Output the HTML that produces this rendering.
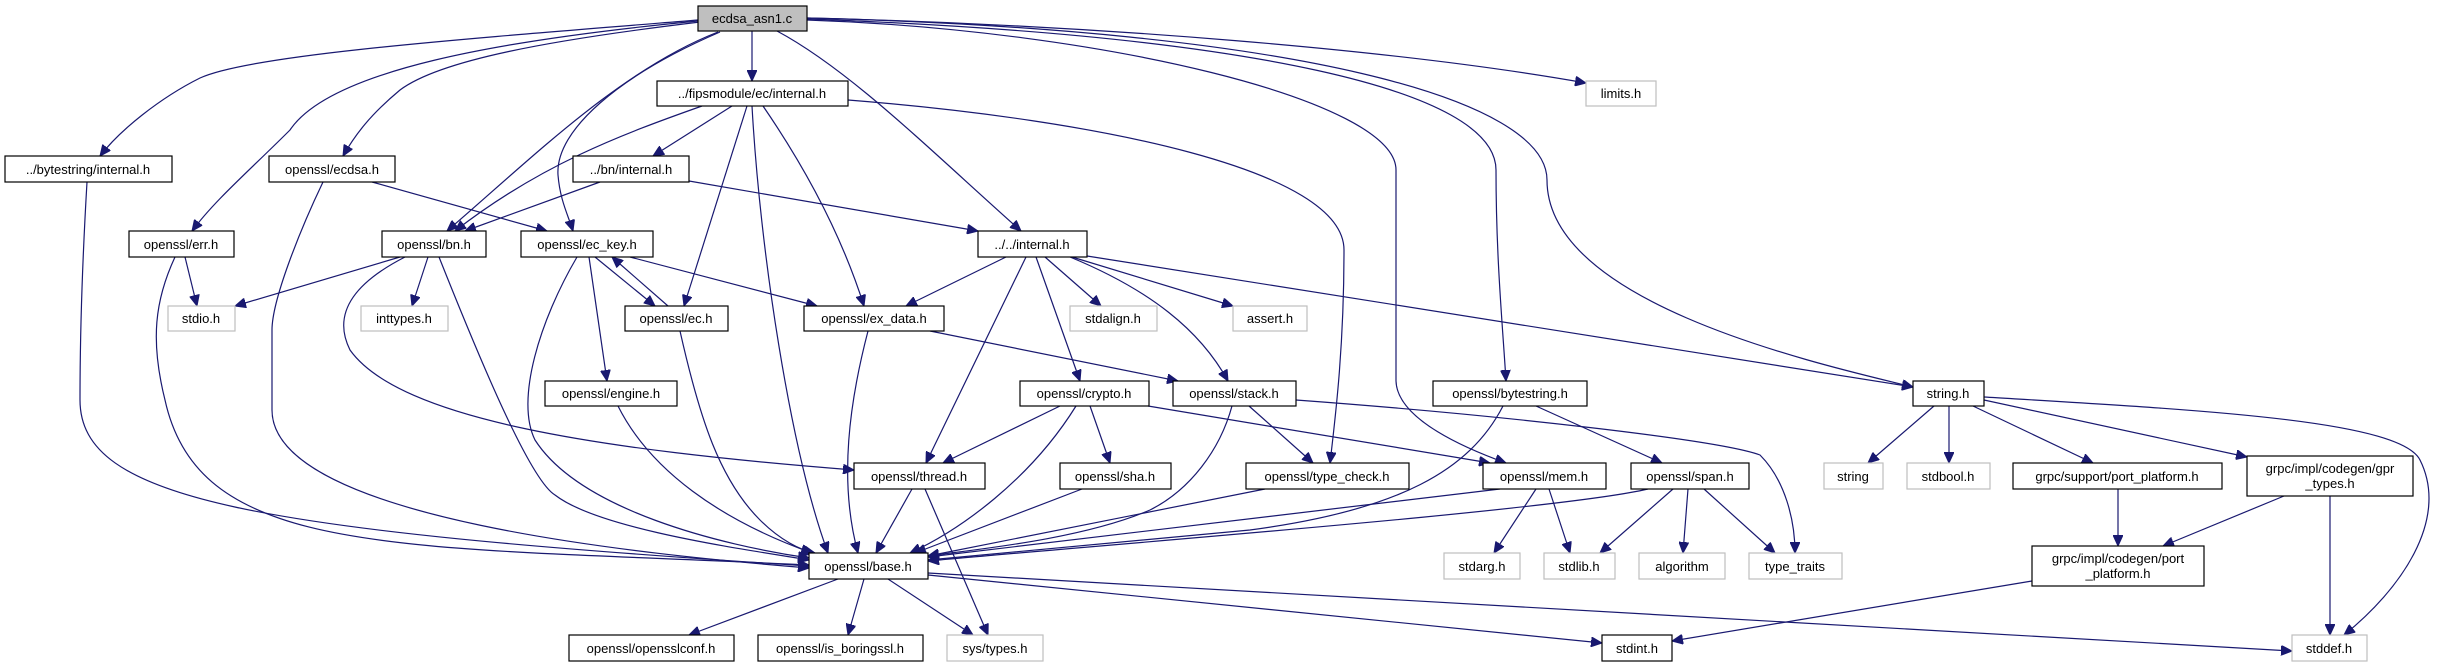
<!DOCTYPE html>
<html><head><meta charset="utf-8"><style>
html,body{margin:0;padding:0;background:#fff;}
svg{display:block;}
text{font-family:"Liberation Sans",sans-serif;font-size:13px;fill:#000;}
.e{fill:none;stroke:#191970;stroke-width:1.2;marker-end:url(#a);}
.n{fill:#fff;stroke:#000;stroke-width:1.2;}
.g{fill:#fff;stroke:#bfbfbf;stroke-width:1.2;}
</style></head><body>
<svg width="2446" height="664" viewBox="0 0 2446 664" xmlns="http://www.w3.org/2000/svg">
<defs><marker id="a" markerUnits="userSpaceOnUse" markerWidth="12" markerHeight="10" refX="11" refY="5" orient="auto"><path d="M0,0 L11,5 L0,10 z" fill="#191970" stroke="#191970"/></marker></defs>
<g>
<path class="e" d="M698,20 C450,40 250,55 200,78 C160,98 120,130 100,156"/>
<path class="e" d="M698,21 C500,40 330,70 290,130 C250,170 215,200 192,231"/>
<path class="e" d="M700,22 C550,40 440,60 400,90 C370,115 355,135 343,156"/>
<path class="e" d="M718,32 C620,70 530,160 447,231"/>
<path class="e" d="M720,32 C620,75 555,130 558,175 C560,200 568,215 573,231"/>
<path class="e" d="M752,31 L752,81"/>
<path class="e" d="M777,31 C850,70 930,150 1021,231"/>
<path class="e" d="M807,20 C1100,30 1396,100 1396,170 L1396,380 C1396,420 1470,450 1506,463"/>
<path class="e" d="M807,19 C1250,35 1496,90 1496,170 C1496,260 1503,330 1506,381"/>
<path class="e" d="M807,18 C1300,30 1547,100 1547,180 C1547,300 1800,360 1913,387"/>
<path class="e" d="M807,18 C1100,25 1400,50 1586,83"/>
<path class="e" d="M702,106 C620,135 540,165 455,231"/>
<path class="e" d="M732,106 L653,156"/>
<path class="e" d="M747,106 L684,306"/>
<path class="e" d="M752,106 C760,250 790,450 828,553"/>
<path class="e" d="M763,106 C800,160 840,230 864,306"/>
<path class="e" d="M848,100 C1100,120 1344,170 1344,250 C1344,350 1335,420 1330,463"/>
<path class="e" d="M689,181 L978,231"/>
<path class="e" d="M600,182 L465,231"/>
<path class="e" d="M372,182 L547,231"/>
<path class="e" d="M323,182 C300,230 272,300 272,330 L272,410 C272,520 650,555 809,568"/>
<path class="e" d="M87,182 C83,250 80,330 80,400 C80,500 250,530 809,566"/>
<path class="e" d="M185,257 L197,306"/>
<path class="e" d="M175,257 C155,300 150,340 165,400 C200,560 400,545 809,565"/>
<path class="e" d="M400,257 L235,306"/>
<path class="e" d="M428,257 L412,306"/>
<path class="e" d="M405,257 C360,280 330,310 350,350 C400,420 600,450 854,470"/>
<path class="e" d="M439,257 C480,360 530,480 555,495 C600,530 750,550 809,560"/>
<path class="e" d="M595,257 L655,306"/>
<path class="e" d="M668,306 L612,257"/>
<path class="e" d="M630,257 L817,306"/>
<path class="e" d="M589,257 L607,381"/>
<path class="e" d="M577,257 C540,320 515,400 535,440 C580,510 720,545 809,558"/>
<path class="e" d="M680,331 C700,420 720,480 760,520 C780,540 800,550 815,553"/>
<path class="e" d="M618,406 C650,470 720,520 812,553"/>
<path class="e" d="M868,331 C850,400 838,480 858,553"/>
<path class="e" d="M930,331 L1178,381"/>
<path class="e" d="M1006,257 L906,306"/>
<path class="e" d="M1045,257 L1101,306"/>
<path class="e" d="M1072,257 L1233,306"/>
<path class="e" d="M1070,257 C1150,290 1200,330 1228,381"/>
<path class="e" d="M1036,257 L1080,381"/>
<path class="e" d="M1026,257 L926,463"/>
<path class="e" d="M1087,256 L1913,387"/>
<path class="e" d="M1060,406 L943,463"/>
<path class="e" d="M1076,406 C1030,480 960,530 910,553"/>
<path class="e" d="M1090,406 L1110,463"/>
<path class="e" d="M1148,406 L1490,463"/>
<path class="e" d="M1249,406 L1313,463"/>
<path class="e" d="M1232,406 C1220,450 1190,490 1150,510 C1080,540 970,550 928,556"/>
<path class="e" d="M1296,400 C1500,415 1720,440 1760,455 C1785,480 1795,520 1795,553"/>
<path class="e" d="M912,489 L876,553"/>
<path class="e" d="M925,489 L988,635"/>
<path class="e" d="M1082,489 L915,553"/>
<path class="e" d="M1265,489 L928,556"/>
<path class="e" d="M1500,489 L928,557"/>
<path class="e" d="M1536,489 L1494,553"/>
<path class="e" d="M1549,489 L1570,553"/>
<path class="e" d="M1503,406 C1470,470 1400,510 1250,530 L928,560"/>
<path class="e" d="M1536,406 L1662,463"/>
<path class="e" d="M1648,489 C1560,510 1100,545 928,561"/>
<path class="e" d="M1673,489 L1600,553"/>
<path class="e" d="M1688,489 L1683,553"/>
<path class="e" d="M1704,489 L1775,553"/>
<path class="e" d="M838,579 L689,635"/>
<path class="e" d="M864,579 L848,635"/>
<path class="e" d="M888,579 L973,635"/>
<path class="e" d="M928,575 L1602,643"/>
<path class="e" d="M928,573 L2292,651"/>
<path class="e" d="M1934,406 L1868,463"/>
<path class="e" d="M1949,406 L1949,463"/>
<path class="e" d="M1973,406 L2093,463"/>
<path class="e" d="M1984,400 L2247,457"/>
<path class="e" d="M1984,397 C2200,410 2400,420 2420,460 C2450,520 2400,590 2344,635"/>
<path class="e" d="M2118,489 L2118,546"/>
<path class="e" d="M2284,496 L2163,546"/>
<path class="e" d="M2330,496 L2330,635"/>
<path class="e" d="M2032,581 L1672,641"/>
</g>
<g>
<rect x="698" y="6" width="109" height="25" fill="#bfbfbf" stroke="#000" stroke-width="1.2"/><text x="752" y="23" text-anchor="middle">ecdsa_asn1.c</text>
<rect class="n" x="657" y="81" width="191" height="25"/><text x="752" y="98" text-anchor="middle">../fipsmodule/ec/internal.h</text>
<rect class="g" x="1586" y="81" width="70" height="25"/><text x="1621" y="98" text-anchor="middle">limits.h</text>
<rect class="n" x="5" y="156" width="167" height="26"/><text x="88" y="174" text-anchor="middle">../bytestring/internal.h</text>
<rect class="n" x="269" y="156" width="126" height="26"/><text x="332" y="174" text-anchor="middle">openssl/ecdsa.h</text>
<rect class="n" x="573" y="156" width="116" height="26"/><text x="631" y="174" text-anchor="middle">../bn/internal.h</text>
<rect class="n" x="129" y="231" width="105" height="26"/><text x="181" y="249" text-anchor="middle">openssl/err.h</text>
<rect class="n" x="382" y="231" width="104" height="26"/><text x="434" y="249" text-anchor="middle">openssl/bn.h</text>
<rect class="n" x="521" y="231" width="132" height="26"/><text x="587" y="249" text-anchor="middle">openssl/ec_key.h</text>
<rect class="n" x="978" y="231" width="109" height="26"/><text x="1032" y="249" text-anchor="middle">../../internal.h</text>
<rect class="g" x="168" y="306" width="67" height="25"/><text x="201" y="323" text-anchor="middle">stdio.h</text>
<rect class="g" x="361" y="306" width="87" height="25"/><text x="404" y="323" text-anchor="middle">inttypes.h</text>
<rect class="n" x="625" y="306" width="103" height="25"/><text x="676" y="323" text-anchor="middle">openssl/ec.h</text>
<rect class="n" x="804" y="306" width="140" height="25"/><text x="874" y="323" text-anchor="middle">openssl/ex_data.h</text>
<rect class="g" x="1070" y="306" width="87" height="25"/><text x="1113" y="323" text-anchor="middle">stdalign.h</text>
<rect class="g" x="1233" y="306" width="74" height="25"/><text x="1270" y="323" text-anchor="middle">assert.h</text>
<rect class="n" x="545" y="381" width="132" height="25"/><text x="611" y="398" text-anchor="middle">openssl/engine.h</text>
<rect class="n" x="1020" y="381" width="129" height="25"/><text x="1084" y="398" text-anchor="middle">openssl/crypto.h</text>
<rect class="n" x="1173" y="381" width="123" height="25"/><text x="1234" y="398" text-anchor="middle">openssl/stack.h</text>
<rect class="n" x="1433" y="381" width="154" height="25"/><text x="1510" y="398" text-anchor="middle">openssl/bytestring.h</text>
<rect class="n" x="1913" y="381" width="71" height="25"/><text x="1948" y="398" text-anchor="middle">string.h</text>
<rect class="n" x="854" y="463" width="131" height="26"/><text x="919" y="481" text-anchor="middle">openssl/thread.h</text>
<rect class="n" x="1060" y="463" width="111" height="26"/><text x="1115" y="481" text-anchor="middle">openssl/sha.h</text>
<rect class="n" x="1246" y="463" width="163" height="26"/><text x="1327" y="481" text-anchor="middle">openssl/type_check.h</text>
<rect class="n" x="1483" y="463" width="123" height="26"/><text x="1544" y="481" text-anchor="middle">openssl/mem.h</text>
<rect class="n" x="1631" y="463" width="118" height="26"/><text x="1690" y="481" text-anchor="middle">openssl/span.h</text>
<rect class="g" x="1824" y="463" width="59" height="26"/><text x="1853" y="481" text-anchor="middle">string</text>
<rect class="g" x="1907" y="463" width="83" height="26"/><text x="1948" y="481" text-anchor="middle">stdbool.h</text>
<rect class="n" x="2013" y="463" width="209" height="26"/><text x="2117" y="481" text-anchor="middle">grpc/support/port_platform.h</text>
<rect class="n" x="2247" y="456" width="166" height="40"/><text x="2330" y="473" text-anchor="middle">grpc/impl/codegen/gpr</text><text x="2330" y="488" text-anchor="middle">_types.h</text>
<rect class="n" x="809" y="553" width="119" height="26"/><text x="868" y="571" text-anchor="middle">openssl/base.h</text>
<rect class="g" x="1444" y="553" width="76" height="26"/><text x="1482" y="571" text-anchor="middle">stdarg.h</text>
<rect class="g" x="1544" y="553" width="71" height="26"/><text x="1579" y="571" text-anchor="middle">stdlib.h</text>
<rect class="g" x="1639" y="553" width="86" height="26"/><text x="1682" y="571" text-anchor="middle">algorithm</text>
<rect class="g" x="1749" y="553" width="93" height="26"/><text x="1795" y="571" text-anchor="middle">type_traits</text>
<rect class="n" x="2032" y="546" width="172" height="40"/><text x="2118" y="563" text-anchor="middle">grpc/impl/codegen/port</text><text x="2118" y="578" text-anchor="middle">_platform.h</text>
<rect class="n" x="569" y="635" width="165" height="26"/><text x="651" y="653" text-anchor="middle">openssl/opensslconf.h</text>
<rect class="n" x="758" y="635" width="165" height="26"/><text x="840" y="653" text-anchor="middle">openssl/is_boringssl.h</text>
<rect class="g" x="947" y="635" width="96" height="26"/><text x="995" y="653" text-anchor="middle">sys/types.h</text>
<rect class="n" x="1602" y="635" width="70" height="26"/><text x="1637" y="653" text-anchor="middle">stdint.h</text>
<rect class="g" x="2292" y="635" width="75" height="26"/><text x="2329" y="653" text-anchor="middle">stddef.h</text>
</g>
</svg>
</body></html>
